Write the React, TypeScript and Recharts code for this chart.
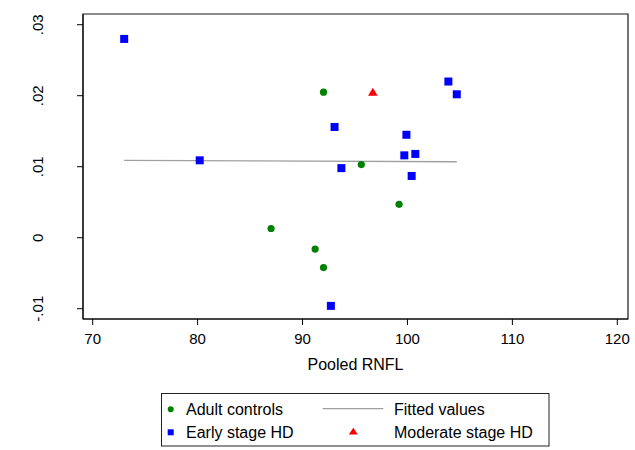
import React from 'react';
import { ScatterChart, Scatter, XAxis, YAxis, ReferenceArea } from 'recharts';

const adultX = [92.0, 95.6, 99.2, 87.0, 91.2, 92.0];
const adultY = [0.0205, 0.0103, 0.0047, 0.0013, -0.0016, -0.0042];
const earlyX = [73.0, 80.2, 103.9, 104.7, 93.05, 99.9, 99.7, 100.75, 93.7, 100.4, 92.7];
const earlyY = [0.028, 0.0109, 0.022, 0.0202, 0.0156, 0.0145, 0.0116, 0.0118, 0.0098, 0.0087, -0.0096];
const moderateX = [96.7];
const moderateY = [0.0205];
const fitX = [73.0, 104.7];
const fitY = [0.0109, 0.0107];

const xTicks = [70, 80, 90, 100, 110, 120];
const yTicks = [-0.01, 0, 0.01, 0.02, 0.03];
const yTickLabels: Record<string, string> = { '-0.01': '-.01', '0': '0', '0.01': '.01', '0.02': '.02', '0.03': '.03' };
const xDomain: [number, number] = [69.075, 121.02];
const yDomain: [number, number] = [-0.01145, 0.03151];

const zip = (xs: number[], ys: number[]) => xs.map((x, i) => ({ x, y: ys[i] }));
const adult = zip(adultX, adultY);
const early = zip(earlyX, earlyY);
const moderate = zip(moderateX, moderateY);
const fit = zip(fitX, fitY);

const GREEN = '#008000';
const BLUE = '#0000ff';
const RED = '#ff0000';
const GRAY = '#a0a0a0';
const FONT = '"Liberation Sans", Arial, Helvetica, sans-serif';

const CircleShape = (p: any) => <circle cx={p.cx} cy={p.cy} r={3.6} fill={GREEN} />;
const SquareShape = (p: any) => <rect x={p.cx - 4} y={p.cy - 4} width={8} height={8} fill={BLUE} />;
const TriShape = (p: any) => (
  <polygon points={`${p.cx},${p.cy - 4.3} ${p.cx - 4.8},${p.cy + 3.7} ${p.cx + 4.8},${p.cy + 3.7}`} fill={RED} />
);
const NoShape = () => <g />;

const XTick = (p: any) => (
  <text x={p.x} y={p.y + 19} textAnchor="middle" fontSize={15} fontFamily={FONT} fill="#000">
    {p.payload.value}
  </text>
);
const YTick = (p: any) => {
  const key = String(Math.round(p.payload.value * 1000) / 1000);
  return (
    <text transform={`translate(${p.x - 34},${p.y}) rotate(-90)`} textAnchor="middle" fontSize={15} fontFamily={FONT} fill="#000">
      {yTickLabels[key] ?? String(p.payload.value)}
    </text>
  );
};

const Legend = () => (
  <svg width={635} height={450} style={{ position: 'absolute', left: 0, top: 0, pointerEvents: 'none' }}>
    <rect x={161.5} y={393.5} width={387.5} height={52.5} fill="none" stroke="#222" strokeWidth={1} />
    <circle cx={170.7} cy={409.3} r={3} fill={GREEN} />
    <text x={186} y={415} fontSize={16} fontFamily={FONT} fill="#000">Adult controls</text>
    <line x1={322.7} y1={408.7} x2={383.3} y2={408.7} stroke={GRAY} strokeWidth={1.3} />
    <text x={394} y={415} fontSize={16} fontFamily={FONT} fill="#000">Fitted values</text>
    <rect x={167.7} y={429.3} width={6} height={6} fill={BLUE} />
    <text x={186} y={438} fontSize={16} fontFamily={FONT} fill="#000">Early stage HD</text>
    <polygon points="353.3,427.8 348.8,434.5 357.8,434.5" fill={RED} />
    <text x={394} y={438} fontSize={16} fontFamily={FONT} fill="#000">Moderate stage HD</text>
  </svg>
);

export default function App() {
  return (
    <div style={{ position: 'absolute', left: 0, top: 0, width: 635, height: 450, background: '#fff' }}>
      <ScatterChart width={635} height={450} margin={{ top: 14, right: 7, bottom: 0, left: 0 }}>
        <XAxis
          type="number"
          dataKey="x"
          domain={xDomain}
          ticks={xTicks}
          allowDataOverflow
          height={131}
          tickSize={6}
          tickMargin={0}
          tick={<XTick />}
          stroke="#000"
          label={{ value: 'Pooled RNFL', position: 'insideTop', offset: 39.5, fontSize: 16, fontFamily: FONT, fill: '#000' }}
        />
        <YAxis
          type="number"
          dataKey="y"
          domain={yDomain}
          ticks={yTicks}
          allowDataOverflow
          width={83}
          tickSize={6}
          tickMargin={0}
          tick={<YTick />}
          stroke="#000"
        />
        <ReferenceArea x1={xDomain[0]} x2={xDomain[1]} y1={yDomain[0]} y2={yDomain[1]} fill="none" stroke="#1a1a1a" strokeWidth={1.2} ifOverflow="visible" />
        <Scatter data={fit} line={{ stroke: GRAY, strokeWidth: 1.3 }} lineType="joint" shape={<NoShape />} isAnimationActive={false} />
        <Scatter data={adult} shape={<CircleShape />} isAnimationActive={false} />
        <Scatter data={early} shape={<SquareShape />} isAnimationActive={false} />
        <Scatter data={moderate} shape={<TriShape />} isAnimationActive={false} />
      </ScatterChart>
      <Legend />
    </div>
  );
}
